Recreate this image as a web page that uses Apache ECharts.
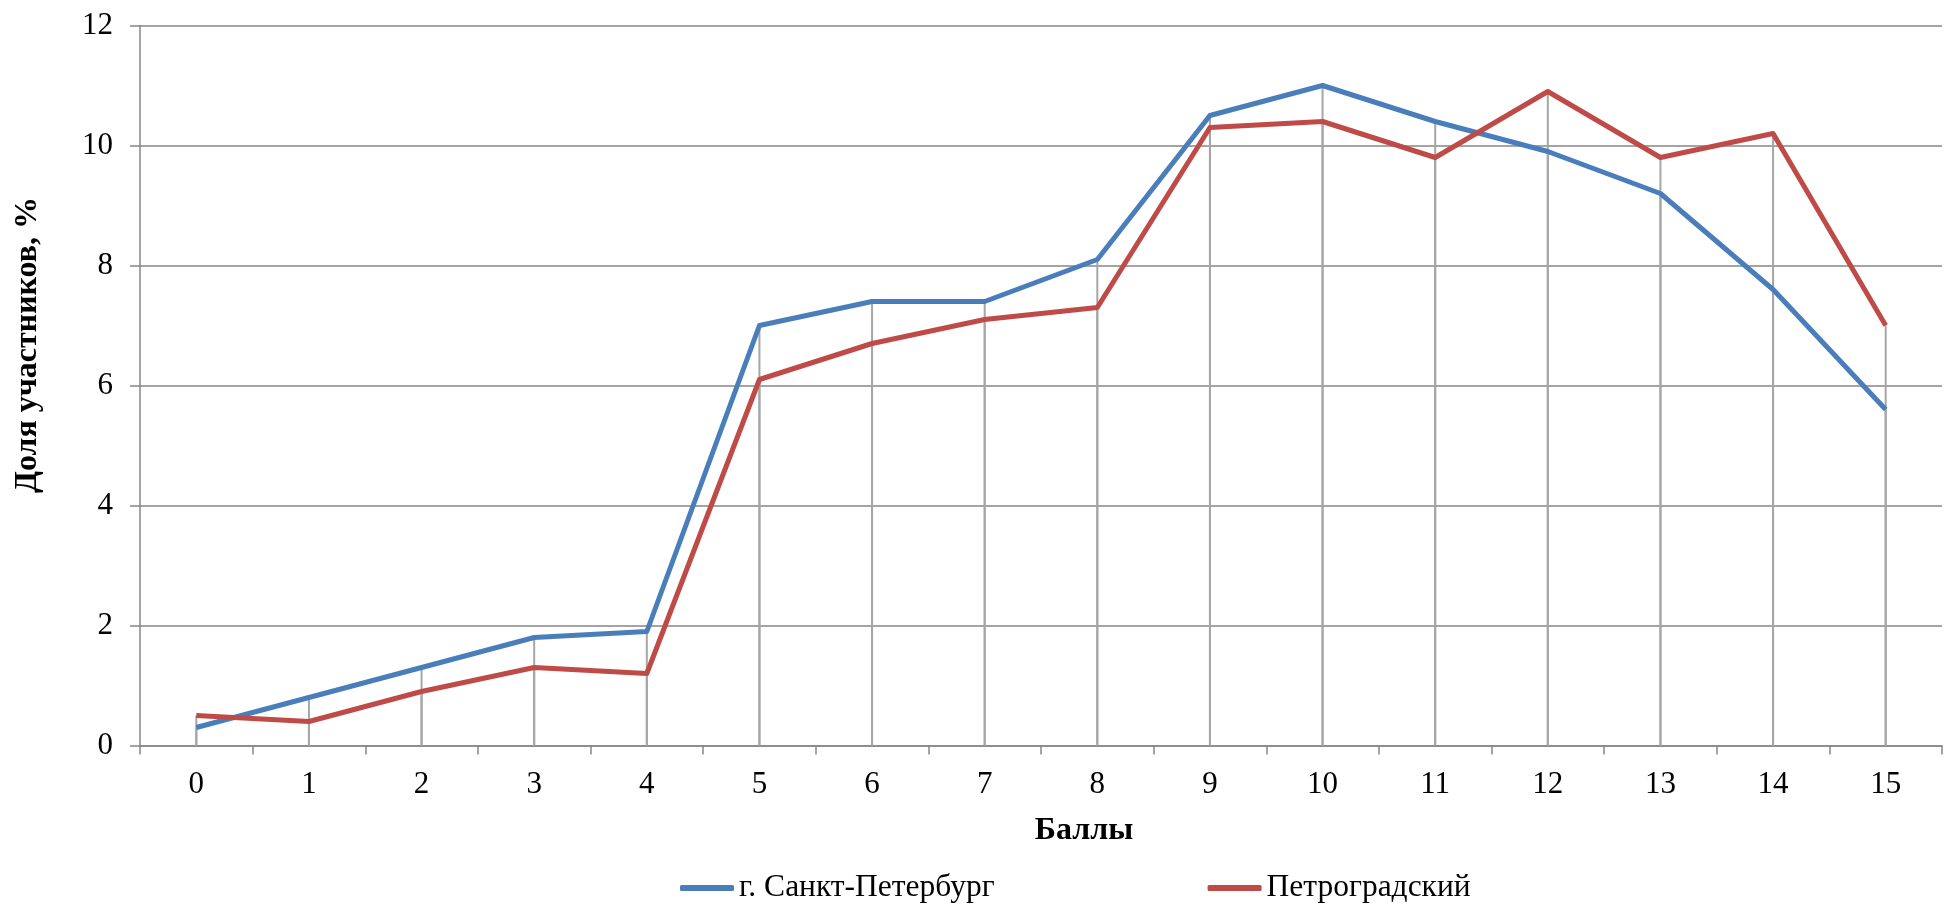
<!DOCTYPE html>
<html>
<head>
<meta charset="utf-8">
<script src="https://cdn.jsdelivr.net/npm/echarts@6/dist/echarts.min.js"></script>
<style>
html,body{margin:0;padding:0;background:#fff;}
#chart{width:1944px;height:907px;}
</style>
</head>
<body>
<div id="chart"></div>
<script>
const categories = ['0','1','2','3','4','5','6','7','8','9','10','11','12','13','14','15'];
const seriesNames = ['г. Санкт-Петербург', 'Петроградский'];
const spbValues = [0.3, 0.8, 1.3, 1.8, 1.9, 7.0, 7.4, 7.4, 8.1, 10.5, 11.0, 10.4, 9.9, 9.2, 7.6, 5.6];
const petroValues = [0.5, 0.4, 0.9, 1.3, 1.2, 6.1, 6.7, 7.1, 7.3, 10.3, 10.4, 9.8, 10.9, 9.8, 10.2, 7.0];
const yTicks = [0, 2, 4, 6, 8, 10, 12];
const xTitle = 'Баллы';
const yTitle = 'Доля участников, %';

const FONT = '"Liberation Serif", "Times New Roman", serif';
const chart = echarts.init(document.getElementById('chart'), null, {renderer: 'canvas'});

const option = {
  animation: false,
  backgroundColor: '#fff',
  grid: {left: 140, right: 2, top: 25.5, bottom: 161.5, containLabel: false},
  legend: {
    data: seriesNames,
    left: 680,
    top: 872,
    padding: 0,
    itemWidth: 54,
    itemHeight: 6,
    itemGap: 213,
    icon: 'roundRect',
    textStyle: {fontFamily: FONT, fontSize: 31.5, color: '#000', padding: [0, 0, 0, 0]}
  },
  xAxis: {
    type: 'category',
    data: categories,
    boundaryGap: true,
    axisLine: {show: true, lineStyle: {color: '#868686', width: 1.5}},
    axisTick: {show: true, length: 9, inside: false, lineStyle: {color: '#868686', width: 1.5}},
    axisLabel: {fontFamily: FONT, fontSize: 31, color: '#000', margin: 24},
    splitLine: {show: false}
  },
  yAxis: {
    type: 'value',
    min: 0,
    max: 12,
    interval: 2,
    axisLine: {show: true, lineStyle: {color: '#868686', width: 1.5}},
    axisTick: {show: true, length: 10, lineStyle: {color: '#868686', width: 1.5}},
    axisLabel: {fontFamily: FONT, fontSize: 31, color: '#000', margin: 27,
      formatter: function (v) { return yTicks.indexOf(v) >= 0 ? String(v) : ''; }},
    splitLine: {show: true, lineStyle: {color: '#868686', width: 1.5}}
  },
  graphic: [
    {type: 'text', x: 1084, y: 831,
      style: {text: xTitle, font: 'bold 32px ' + FONT, fill: '#000', align: 'center', verticalAlign: 'middle'}},
    {type: 'text', x: 28, y: 345, rotation: Math.PI / 2,
      style: {text: yTitle, font: 'bold 32px ' + FONT, fill: '#000', align: 'center', verticalAlign: 'middle'}}
  ],
  series: [
    {type: 'bar', data: spbValues, barWidth: 2, barGap: '-100%', silent: true,
      itemStyle: {color: '#a6a6a6'}, z: 1, legendHoverLink: false},
    {type: 'bar', data: petroValues, barWidth: 2, barGap: '-100%', silent: true,
      itemStyle: {color: '#a6a6a6'}, z: 1, legendHoverLink: false},
    {name: seriesNames[0], type: 'line', data: spbValues, symbol: 'none',
      lineStyle: {color: '#4a7ebb', width: 5, join: 'round'}, itemStyle: {color: '#4a7ebb'}, z: 3},
    {name: seriesNames[1], type: 'line', data: petroValues, symbol: 'none',
      lineStyle: {color: '#be4b48', width: 5, join: 'round'}, itemStyle: {color: '#be4b48'}, z: 4}
  ]
};
chart.setOption(option);
</script>
</body>
</html>
